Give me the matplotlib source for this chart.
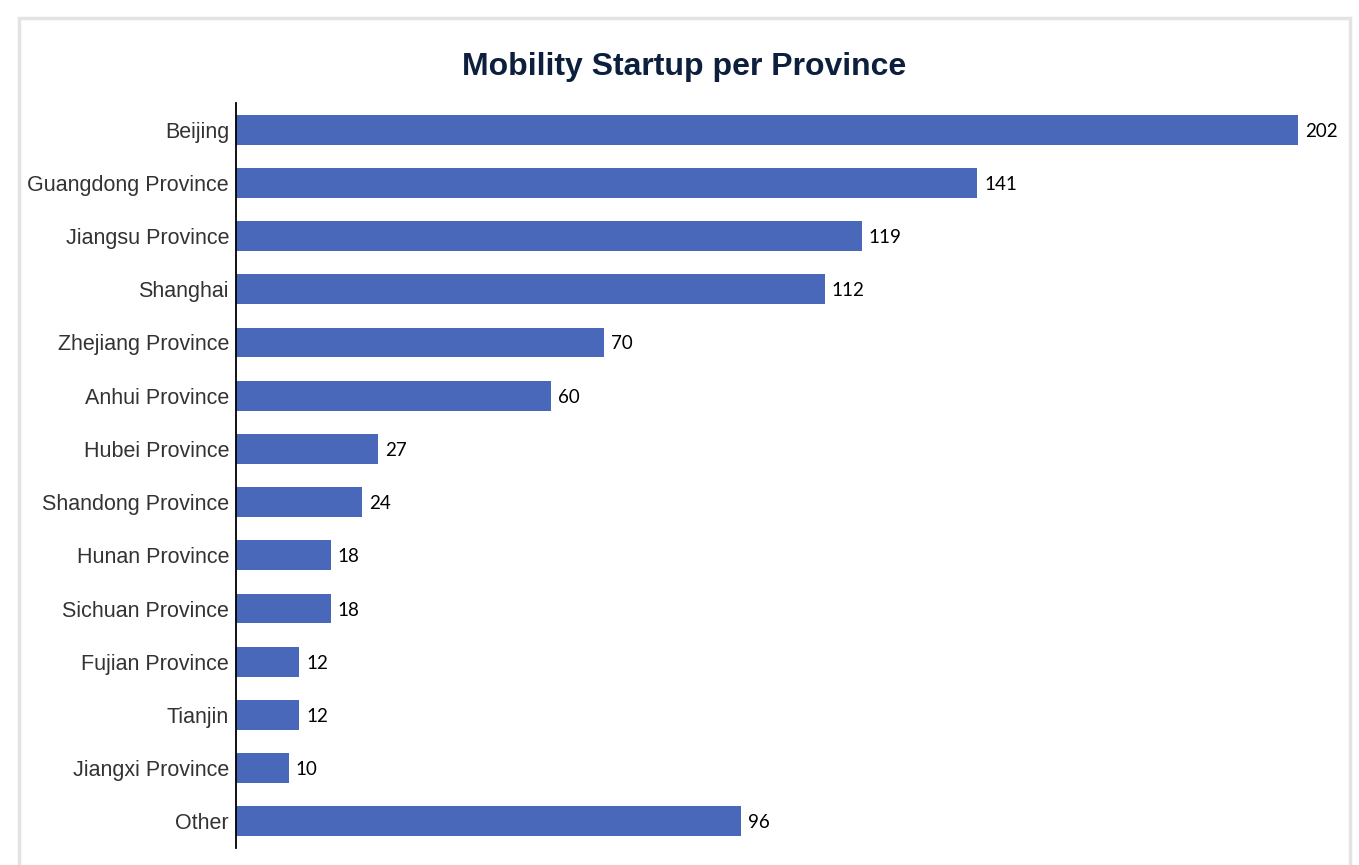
import matplotlib.pyplot as plt
from matplotlib.patches import Rectangle

provinces = ["Beijing", "Guangdong Province", "Jiangsu Province", "Shanghai",
             "Zhejiang Province", "Anhui Province", "Hubei Province",
             "Shandong Province", "Hunan Province", "Sichuan Province",
             "Fujian Province", "Tianjin", "Jiangxi Province", "Other"]
startups = [202, 141, 119, 112, 70, 60, 27, 24, 18, 18, 12, 12, 10, 96]

W, H = 1359, 865
fig = plt.figure(figsize=(W / 100, H / 100), dpi=100)
fig.patch.set_facecolor("white")

# card frame, kept behind the axes
card = Rectangle((19 / W, -0.05), (1350 - 19) / W, 1.05 - 18 / H,
                 transform=fig.transFigure, facecolor="white",
                 edgecolor="#e3e3e3", linewidth=2.5, zorder=-10)
fig.patches.append(card)

ax = fig.add_axes([236 / W, (H - 848) / H, (1298 - 236) / W, (848 - 103) / H])
ax.set_facecolor("none")

y = range(len(provinces))
bars = ax.barh(y, startups, height=0.56, color="#4968b9")
ax.set_ylim(len(provinces) - 0.5, -0.5)
ax.set_xlim(0, max(startups))

for b, v in zip(bars, startups):
    ax.annotate(str(v), (b.get_width(), b.get_y() + b.get_height() / 2),
                xytext=(5, 0), textcoords="offset points",
                va="center_baseline", ha="left", fontsize=13.5, family="Lato",
                color="black", annotation_clip=False)

ax.set_yticks(list(y))
ax.set_yticklabels(provinces, fontsize=15.5, family="Liberation Sans",
                   color="#333333")
ax.tick_params(axis="y", length=0, pad=5)
ax.set_xticks([])
for s in ["top", "right", "bottom"]:
    ax.spines[s].set_visible(False)
ax.spines["left"].set_linewidth(1.3)
ax.spines["left"].set_color("black")

fig.text(684.5 / W, 1 - 67 / H, "Mobility Startup per Province",
         ha="center", va="center", fontsize=23, fontweight="bold",
         family="Liberation Sans", color="#0c1f3d")

fig.savefig("out.png", dpi=100)
